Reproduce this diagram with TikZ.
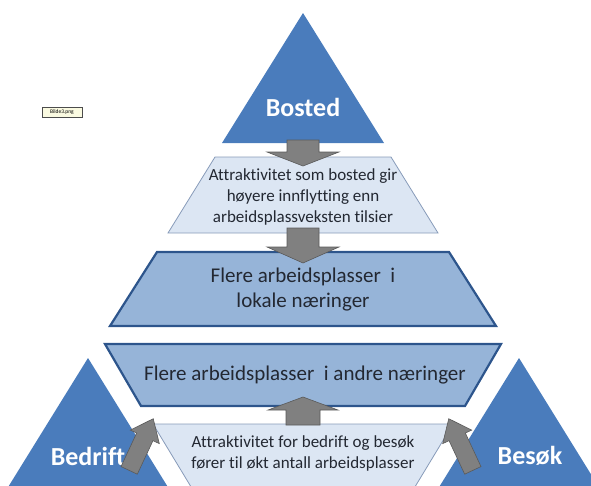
\documentclass[tikz,border=0pt]{standalone}
\usepackage{fontspec}
\setmainfont[Ligatures=NoCommon]{Carlito}
\definecolor{triblue}{RGB}{74,124,188}
\definecolor{midblue}{RGB}{150,180,216}
\definecolor{midborder}{RGB}{45,85,140}
\definecolor{lightfill}{RGB}{220,230,243}
\definecolor{lightborder}{RGB}{135,155,185}
\definecolor{arrowgray}{RGB}{128,128,128}
\definecolor{arrowborder}{RGB}{90,90,90}
\definecolor{textcol}{RGB}{35,40,50}
\definecolor{capfill}{RGB}{250,250,225}
\begin{document}
\begin{tikzpicture}[x=1pt,y=-1pt,
  tri/.style={fill=triblue,draw=none},
  midtrap/.style={fill=midblue,draw=midborder,line width=2.2pt,line join=miter},
  lighttrap/.style={fill=lightfill,draw=lightborder,line width=0.8pt},
  garrow/.style={fill=arrowgray,draw=arrowborder,line width=0.6pt,line join=miter},
  bodytext/.style={text=textcol,font=\fontsize{17}{21}\selectfont,align=center},
  bigtext/.style={text=textcol,font=\fontsize{21}{25}\selectfont,align=center},
  labeltext/.style={text=white,font=\bfseries\fontsize{26}{30}\selectfont}]
\useasboundingbox (0,0) rectangle (591,485);
\begin{scope}
\clip (0,0) rectangle (591,485);
% top triangle
\path[tri] (303,13) -- (384,143) -- (222,143) -- cycle;
\node[labeltext] (bosted) at (303,107) {Bosted};
% trapezoid 1
\path[lighttrap] (215,157) -- (391,157) -- (438,233) -- (168,233) -- cycle;
\node[bodytext] (t1) at (303,197) {Attraktivitet som bosted gir\\høyere innflytting enn\\arbeidsplassveksten tilsier};
% trapezoid 2
\path[midtrap] (157,252) -- (449,252) -- (496,326) -- (110,326) -- cycle;
\node[bigtext] (t2) at (303,290) {Flere arbeidsplasser~ i\\lokale næringer};
% trapezoid 3
\path[midtrap] (105,344) -- (501,344) -- (465,406) -- (141,406) -- cycle;
\node[bigtext] (t3) at (305,375) {Flere arbeidsplasser~ i andre næringer};
% trapezoid 4
\path[lighttrap] (153,424) -- (453,424) -- (404,505) -- (202,505) -- cycle;
\node[bodytext] (t4) at (303,453) {Attraktivitet for bedrift og besøk\\fører til økt antall arbeidsplasser};
% side triangles
\path[tri] (88,358) -- (179,505) -- (-3,505) -- cycle;
\node[labeltext] (bedrift) at (88,456) {Bedrift};
\path[tri] (519,358) -- (610,505) -- (428,505) -- cycle;
\node[labeltext] (besok) at (530,456) {Besøk};
% vertical arrows
\path[garrow] (287,140) -- (319,140) -- (319,152) -- (339,152) -- (303,166) -- (267,152) -- (287,152) -- cycle;
\path[garrow] (287,228) -- (319,228) -- (319,247) -- (339,247) -- (303,263) -- (267,247) -- (287,247) -- cycle;
\path[garrow] (286,425) -- (320,425) -- (320,410) -- (338,410) -- (303,397) -- (268,410) -- (286,410) -- cycle;
% side arrows
\begin{scope}[shift={(141,445)},rotate=-25]
\path[garrow] (-9,28) -- (9,28) -- (9,-9) -- (16,-9) -- (0,-29) -- (-16,-9) -- (-9,-9) -- cycle;
\end{scope}
\begin{scope}[shift={(461,445)},rotate=25]
\path[garrow] (-9,28) -- (9,28) -- (9,-9) -- (16,-9) -- (0,-29) -- (-16,-9) -- (-9,-9) -- cycle;
\end{scope}
\end{scope}
% image caption box
\node[draw=black!70,fill=capfill,line width=0.6pt,inner sep=1.5pt,minimum width=40pt,minimum height=10pt,font=\fontsize{5.5}{6}\selectfont] (img) at (62,112) {Bilde3.png};
\end{tikzpicture}
\end{document}
